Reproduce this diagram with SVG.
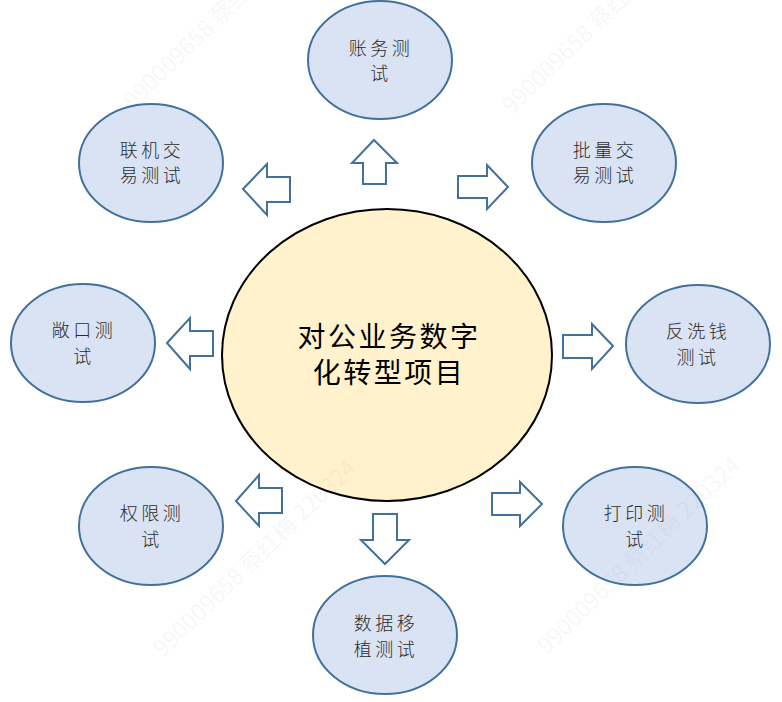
<svg xmlns="http://www.w3.org/2000/svg" width="782" height="702" viewBox="0 0 782 702">
<style>
.n{fill:#dae3f3;stroke:#41719c;stroke-width:2}
.a{fill:#fff;stroke:#41719c;stroke-width:2}
.c{fill:#fff2cc;stroke:#000;stroke-width:2}
text{font-family:"Noto Sans CJK SC","Liberation Sans",sans-serif;text-anchor:middle}
.t{font-size:18px;letter-spacing:3.5px;fill:#2b2b2b;font-weight:300}
.m{font-size:28px;letter-spacing:2.5px;fill:#000}
.w{font-size:23px;fill:#777;fill-opacity:.065;text-anchor:start}
</style>
<rect width="782" height="702" fill="#fff"/>
<g id="connectors">
<path class="a" d="M374 140L397 163H386V184H363V163H352Z"/>
<path class="a" d="M243 189L267 164V177H290V202H267V215Z"/>
<path class="a" d="M508 187L487 165V176H458V198H487V209Z"/>
<path class="a" d="M167 343L190 318V331H213V356H190V369Z"/>
<path class="a" d="M613 346L592 324V335H563V358H592V369Z"/>
<path class="a" d="M236 501L259 475V488H282V513H259V526Z"/>
<path class="a" d="M542 504L520 482V493H492V515H520V526Z"/>
<path class="a" d="M385 564L409 540H397V514H373V540H361Z"/>
</g>
<g id="center"><ellipse class="c" cx="387" cy="355" rx="165" ry="146"/><text class="m" x="389" y="347">对公业务数字</text><text class="m" x="389" y="383">化转型项目</text></g>
<g id="n1"><ellipse class="n" cx="380" cy="60" rx="72" ry="59"/><text class="t" x="381" y="55">账务测</text><text class="t" x="381" y="80">试</text></g>
<g id="n2"><ellipse class="n" cx="151" cy="163" rx="72" ry="59"/><text class="t" x="152" y="157">联机交</text><text class="t" x="152" y="182">易测试</text></g>
<g id="n3"><ellipse class="n" cx="604" cy="163" rx="72" ry="59"/><text class="t" x="605" y="157">批量交</text><text class="t" x="605" y="182">易测试</text></g>
<g id="n4"><ellipse class="n" cx="83" cy="343" rx="72" ry="59"/><text class="t" x="84" y="337">敞口测</text><text class="t" x="84" y="363">试</text></g>
<g id="n5"><ellipse class="n" cx="698" cy="344" rx="72" ry="59"/><text class="t" x="698" y="338">反洗钱</text><text class="t" x="698" y="364">测试</text></g>
<g id="n6"><ellipse class="n" cx="151" cy="526" rx="72" ry="59"/><text class="t" x="152" y="520">权限测</text><text class="t" x="152" y="546">试</text></g>
<g id="n7"><ellipse class="n" cx="635" cy="526" rx="72" ry="59"/><text class="t" x="636" y="520">打印测</text><text class="t" x="636" y="546">试</text></g>
<g id="n8"><ellipse class="n" cx="385" cy="635" rx="72" ry="59"/><text class="t" x="386" y="630">数据移</text><text class="t" x="386" y="656">植测试</text></g>
<g id="watermarks">
<text class="w" transform="translate(133,110) rotate(-44)">990009658 蔡红</text>
<text class="w" transform="translate(512,115) rotate(-44)">990009658 蔡红</text>
<text class="w" transform="translate(163,658) rotate(-44)">990009658 蔡红梅 220324</text>
<text class="w" transform="translate(547,655) rotate(-44)">990009658 蔡红梅 220324</text>
</g>
</svg>
